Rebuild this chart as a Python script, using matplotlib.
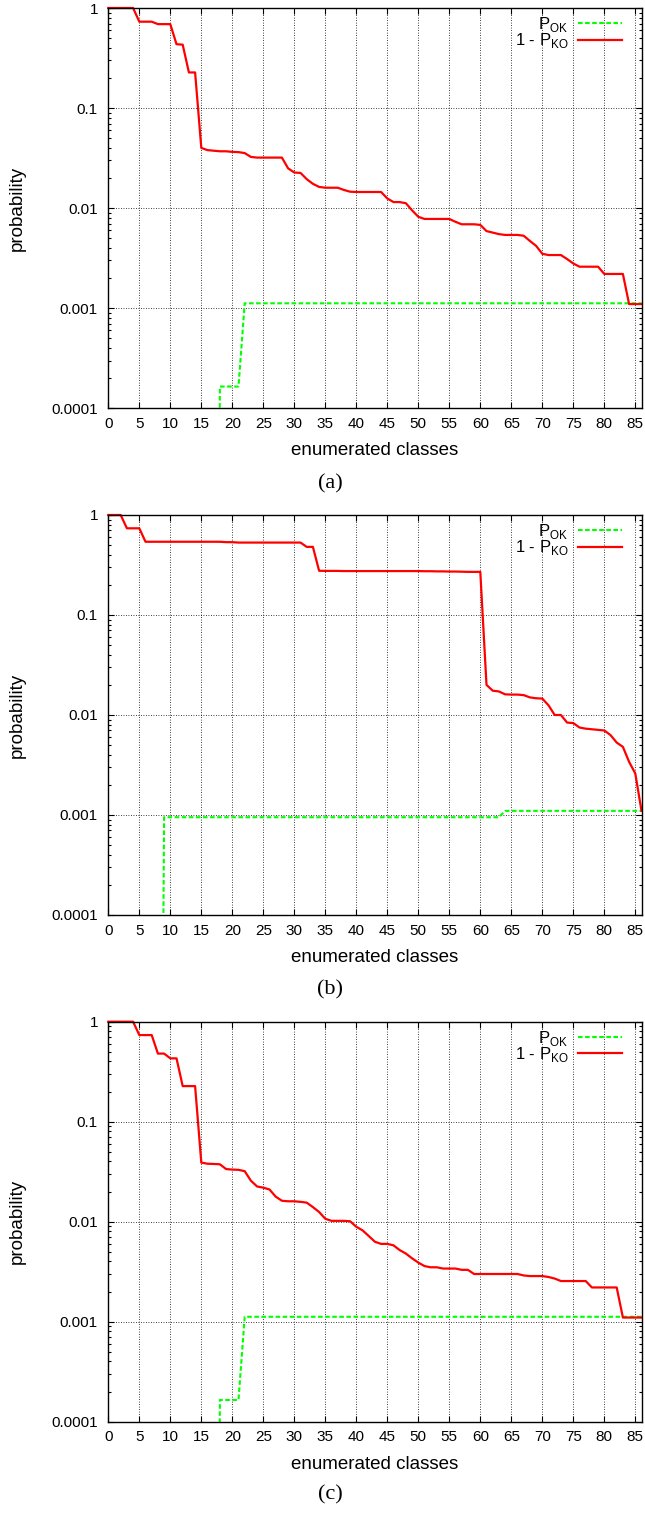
import numpy as np
import matplotlib
matplotlib.use("Agg")
import matplotlib.pyplot as plt
from matplotlib.ticker import LogLocator, NullFormatter, FixedLocator, FixedFormatter

plt.rcParams['font.family'] = ['Liberation Sans', 'DejaVu Sans']
plt.rcParams['mathtext.fontset'] = 'custom'
plt.rcParams['mathtext.rm'] = 'Liberation Sans'

# ---------------- data ----------------
classes = np.arange(87)
TINY = 1e-12  # effectively zero (below axis)

red_a = [1, 1, 1, 1, 1, 0.73, 0.73, 0.73, 0.69, 0.69,
         0.69, 0.435, 0.43, 0.227, 0.227, 0.040, 0.038, 0.0375, 0.037, 0.037,
         0.0365, 0.0363, 0.0355, 0.0325, 0.032, 0.032, 0.032, 0.032, 0.032, 0.025,
         0.0227, 0.0225, 0.0195, 0.0175, 0.0163, 0.016, 0.016, 0.016, 0.0152, 0.0146,
         0.0145, 0.0145, 0.0145, 0.0145, 0.0145, 0.0125, 0.0115, 0.0115, 0.0112, 0.0095,
         0.0082, 0.0078, 0.0078, 0.0078, 0.0078, 0.0078, 0.0073, 0.0069, 0.0069, 0.0069,
         0.0068, 0.0059, 0.0057, 0.0055, 0.0054, 0.0054, 0.0054, 0.0053, 0.0047, 0.0042,
         0.0035, 0.0034, 0.0034, 0.0034, 0.0031, 0.0028, 0.0026, 0.0026, 0.0026, 0.0026,
         0.0022, 0.0022, 0.0022, 0.0022, 0.0011, 0.0011, 0.0011]
green_a = [TINY] * 18 + [1.65e-4] * 4 + [1.12e-3] * 65

red_b = [1, 1, 1, 0.736, 0.736, 0.736, 0.54, 0.54, 0.54, 0.54,
         0.54, 0.54, 0.54, 0.54, 0.54, 0.54, 0.54, 0.54, 0.54, 0.535,
         0.535, 0.53, 0.53, 0.53, 0.53, 0.53, 0.53, 0.53, 0.53, 0.53,
         0.53, 0.53, 0.48, 0.48, 0.277, 0.276, 0.276, 0.276, 0.275, 0.275,
         0.275, 0.275, 0.275, 0.275, 0.275, 0.275, 0.275, 0.275, 0.275, 0.275,
         0.275, 0.274, 0.274, 0.273, 0.273, 0.272, 0.272, 0.271, 0.27, 0.27,
         0.27, 0.020, 0.0175, 0.0172, 0.0161, 0.016, 0.016, 0.0158, 0.015, 0.0147,
         0.0146, 0.0125, 0.010, 0.010, 0.0084, 0.0083, 0.0075, 0.0073, 0.0072, 0.0071,
         0.0070, 0.0063, 0.0053, 0.0048, 0.0034, 0.0026, 0.0011]
green_b = [TINY] * 9 + [9.5e-4] * 55 + [1.1e-3] * 23

red_c = [1, 1, 1, 1, 1, 0.735, 0.735, 0.735, 0.48, 0.48,
         0.43, 0.43, 0.227, 0.227, 0.227, 0.039, 0.038, 0.0378, 0.0375, 0.0336,
         0.0332, 0.033, 0.032, 0.0257, 0.0225, 0.0219, 0.021, 0.0178, 0.0162, 0.016,
         0.016, 0.0158, 0.0155, 0.014, 0.0125, 0.0107, 0.0102, 0.0102, 0.0102, 0.0101,
         0.0089, 0.0082, 0.0072, 0.0063, 0.006, 0.006, 0.0058, 0.0052, 0.0048, 0.0043,
         0.0039, 0.0036, 0.0035, 0.0035, 0.0034, 0.0034, 0.0034, 0.0033, 0.0033, 0.0030,
         0.0030, 0.0030, 0.0030, 0.0030, 0.0030, 0.0030, 0.0030, 0.0029, 0.00286, 0.00286,
         0.00286, 0.0028, 0.0027, 0.00255, 0.00255, 0.00255, 0.00255, 0.00255, 0.0022, 0.0022,
         0.0022, 0.0022, 0.0022, 0.0011, 0.0011, 0.0011, 0.0011]
green_c = [TINY] * 18 + [1.65e-4] * 4 + [1.12e-3] * 65

panels = [("(a)", red_a, green_a), ("(b)", red_b, green_b), ("(c)", red_c, green_c)]

xticks = list(range(0, 86, 5))
yticks = [1e-4, 1e-3, 1e-2, 1e-1, 1]
ytick_labels = ['0.0001', '0.001', '0.01', '0.1', '1']
label_ok = r'P$_{\mathregular{OK}}$'
label_ko = r'1 - P$_{\mathregular{KO}}$'

# ---------------- layout (pixels) ----------------
W, H = 645, 1514
LEFT, RIGHT = 108.3, 641.5
tops = [8.0, 515.0, 1021.7]
bottoms = [408.3, 915.0, 1421.7]
captions_y = [484, 990, 1495]

fig = plt.figure(figsize=(W / 100, H / 100), dpi=100)

for (cap, red, green), top, bot, cy in zip(panels, tops, bottoms, captions_y):
    hgt = bot - top
    ax = fig.add_axes([LEFT / W, 1 - bot / H, (RIGHT - LEFT) / W, hgt / H])
    ax.plot(classes, green, color='#00ff00', lw=1.5, dashes=(2.2, 1.2), label=label_ok)
    ax.plot(classes, red, color='#ff0000', lw=1.6, label=label_ko, clip_on=False)
    ax.set_yscale('log')
    ax.set_xlim(0, 86)
    ax.set_ylim(1e-4, 1)
    ax.xaxis.set_major_locator(FixedLocator(xticks))
    ax.yaxis.set_major_locator(FixedLocator(yticks))
    ax.yaxis.set_major_formatter(FixedFormatter(ytick_labels))
    ax.yaxis.set_minor_locator(LogLocator(base=10, subs=np.arange(2, 10), numticks=20))
    ax.yaxis.set_minor_formatter(NullFormatter())
    ax.tick_params(which='both', direction='in', top=True, right=True, width=0.8)
    ax.tick_params(which='major', length=4.5, labelsize=11)
    ax.tick_params(which='minor', length=2.5)
    ax.tick_params(axis='x', pad=6.3)
    ax.tick_params(axis='y', pad=7.5)
    ax.grid(True, which='major', color='black', lw=0.6, ls=(0, (1, 2)))
    for s in ax.spines.values():
        s.set_linewidth(1.0)
        s.set_zorder(3)
    ax.set_xlabel('enumerated classes', fontsize=13.5)
    ax.xaxis.label.set_va('center')
    ax.xaxis.set_label_coords(0.5, -42.5 / hgt)
    ax.set_ylabel('probability', fontsize=13.5)
    ax.yaxis.label.set_va('center')
    ax.yaxis.set_label_coords((17.5 - LEFT) / (RIGHT - LEFT), 0.5)
    ax.legend(loc='upper right', frameon=False, markerfirst=False, fontsize=12,
              handlelength=2.6, handletextpad=0.6, labelspacing=-0.15,
              borderaxespad=0.0, borderpad=0.0,
              bbox_to_anchor=(1 - 20 / (RIGHT - LEFT), 1 - 7 / hgt))
    fig.text(330 / W, 1 - cy / H, cap, family=['Liberation Serif', 'DejaVu Serif'],
             fontsize=16, ha='center', va='center')

fig.savefig('out.png', dpi=100)
